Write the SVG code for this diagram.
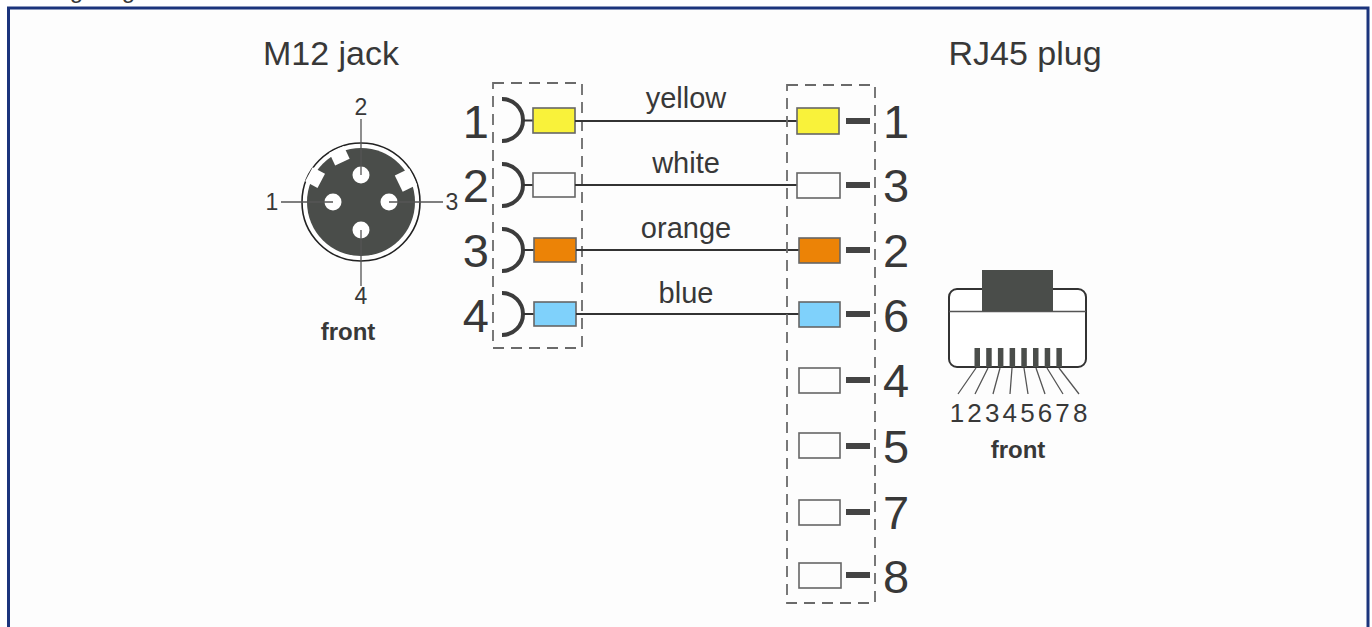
<svg xmlns="http://www.w3.org/2000/svg" width="1372" height="627" viewBox="0 0 1372 627">
<style>
.t{font-family:"Liberation Sans",Arial,sans-serif;fill:#383838}
.big{font-size:47px}
.ttl{font-size:34px}
.wl{font-size:29px;text-anchor:middle}
.sm{font-size:23px;text-anchor:middle}
.fr{font-size:24px;font-weight:bold;text-anchor:middle}
.pin{stroke:#666;stroke-width:1.6}
.stub{fill:#444}
.box{fill:none;stroke:#6a6a6a;stroke-width:1.8;stroke-dasharray:11 7}
.wire{stroke:#333;stroke-width:2;fill:none}
.lead{stroke:#555;stroke-width:1.3;fill:none}
.sock{stroke:#3c3c3c;stroke-width:4;fill:none}
</style>
<rect x="0" y="0" width="1372" height="627" fill="#ffffff"/>
<text class="t" x="15" y="-2" font-size="24">Wiring diagram</text>
<rect x="8.5" y="8" width="1359.5" height="640" fill="#fdfdfd" stroke="#1b347c" stroke-width="3"/>

<g id="m12">
<text class="t ttl" x="331" y="65" text-anchor="middle">M12 jack</text>
<circle cx="361" cy="202" r="59" fill="#fff" stroke="#222" stroke-width="1.6"/>
<circle cx="361" cy="202" r="54" fill="#4a4d4a"/>
<rect x="405" y="194" width="14" height="16" fill="#fff" transform="rotate(-115 361 202)"/>
<rect x="406" y="194" width="14" height="16" fill="#fff" transform="rotate(-152 361 202)"/>
<rect x="403" y="193" width="16" height="18" fill="#fff" transform="rotate(-26 361 202)"/>
<circle cx="361" cy="175" r="8.5" fill="#fff"/>
<circle cx="333" cy="202" r="8.5" fill="#fff"/>
<circle cx="389" cy="202" r="8.5" fill="#fff"/>
<circle cx="361" cy="230" r="8.5" fill="#fff"/>
<path class="lead" d="M361 119V175M281 202H333M389 202H443M361 230V286"/>
<text class="t sm" x="361" y="115">2</text>
<text class="t sm" x="272" y="210">1</text>
<text class="t sm" x="452" y="210">3</text>
<text class="t sm" x="361" y="304">4</text>
<text class="t fr" x="348" y="340">front</text>
</g>

<g id="m12-pins">
<rect class="box" x="493" y="83" width="89" height="265"/>
<g id="jack1"><text class="t big" x="489" y="138" text-anchor="end">1</text><path class="sock" d="M502 99A21 21 0 0 1 502 141"/><path class="wire" d="M523 120.5H533"/><rect class="pin" x="533" y="108" width="42" height="25" fill="#f9f23a"/></g>
<g id="jack2"><text class="t big" x="489" y="202" text-anchor="end">2</text><path class="sock" d="M502 164A21 21 0 0 1 502 206"/><path class="wire" d="M523 185H533"/><rect class="pin" x="533" y="173" width="42" height="24" fill="#fdfdfd"/></g>
<g id="jack3"><text class="t big" x="489" y="267" text-anchor="end">3</text><path class="sock" d="M502 229A21 21 0 0 1 502 271"/><path class="wire" d="M523 250H534"/><rect class="pin" x="534" y="238" width="42" height="24" fill="#ec8306"/></g>
<g id="jack4"><text class="t big" x="489" y="332" text-anchor="end">4</text><path class="sock" d="M502 293A21 21 0 0 1 502 335"/><path class="wire" d="M523 314H534"/><rect class="pin" x="534" y="302" width="42" height="24" fill="#7fd1fb"/></g>
</g>

<g id="connectors">
<path class="wire" d="M575 121H797"/>
<path class="wire" d="M575 185H797"/>
<path class="wire" d="M576 250H799"/>
<path class="wire" d="M576 314H799"/>
<text class="t wl" x="686" y="108">yellow</text>
<text class="t wl" x="686" y="173">white</text>
<text class="t wl" x="686" y="238">orange</text>
<text class="t wl" x="686" y="303">blue</text>
</g>

<g id="rj45-pins">
<rect class="box" x="787" y="85" width="88" height="518"/>
<g id="plug1"><rect class="pin" x="797" y="108" width="42" height="26" fill="#f9f23a"/><rect class="stub" x="846" y="118" width="24" height="6"/><text class="t big" x="883" y="138">1</text></g>
<g id="plug3"><rect class="pin" x="797" y="173" width="43" height="25" fill="#fdfdfd"/><rect class="stub" x="846" y="182" width="24" height="6"/><text class="t big" x="883" y="202">3</text></g>
<g id="plug2"><rect class="pin" x="799" y="238" width="41" height="25" fill="#ec8306"/><rect class="stub" x="846" y="247" width="24" height="6"/><text class="t big" x="883" y="267">2</text></g>
<g id="plug6"><rect class="pin" x="799" y="302" width="41" height="25" fill="#7fd1fb"/><rect class="stub" x="846" y="311" width="24" height="6"/><text class="t big" x="883" y="332">6</text></g>
<g id="plug4"><rect class="pin" x="799" y="368" width="41" height="25" fill="#fdfdfd"/><rect class="stub" x="846" y="377" width="24" height="6"/><text class="t big" x="883" y="397">4</text></g>
<g id="plug5"><rect class="pin" x="799" y="433" width="41" height="25" fill="#fdfdfd"/><rect class="stub" x="846" y="443" width="24" height="6"/><text class="t big" x="883" y="463">5</text></g>
<g id="plug7"><rect class="pin" x="799" y="500" width="41" height="25" fill="#fdfdfd"/><rect class="stub" x="846" y="509" width="24" height="6"/><text class="t big" x="883" y="529">7</text></g>
<g id="plug8"><rect class="pin" x="799" y="563" width="42" height="25" fill="#fdfdfd"/><rect class="stub" x="846" y="572" width="24" height="6"/><text class="t big" x="883" y="593">8</text></g>
</g>

<g id="rj45">
<text class="t ttl" x="1025" y="65" text-anchor="middle">RJ45 plug</text>
<rect x="949" y="289" width="137" height="78" rx="8" fill="#fff" stroke="#333" stroke-width="2"/>
<path d="M949 311.5H1086" stroke="#555" stroke-width="1.5"/>
<rect x="982" y="270" width="71" height="41" fill="#4a4d4a"/>
<g fill="#4a4d4a">
<rect x="974.5" y="348" width="5.5" height="19"/>
<rect x="986.2" y="348" width="5.5" height="19"/>
<rect x="997.9" y="348" width="5.5" height="19"/>
<rect x="1009.6" y="348" width="5.5" height="19"/>
<rect x="1021.3" y="348" width="5.5" height="19"/>
<rect x="1033" y="348" width="5.5" height="19"/>
<rect x="1044.7" y="348" width="5.5" height="19"/>
<rect x="1056.4" y="348" width="5.5" height="19"/>
</g>
<path class="lead" d="M976 368L958 394M988 368L975 394M1000 368L993 394M1012 368L1010 394M1024 368L1028 394M1036 368L1045 394M1047 368L1063 394M1059 368L1079 394"/>
<g class="t" font-size="26" text-anchor="middle">
<text x="957" y="422">1</text>
<text x="974.6" y="422">2</text>
<text x="992.2" y="422">3</text>
<text x="1009.8" y="422">4</text>
<text x="1027.4" y="422">5</text>
<text x="1045" y="422">6</text>
<text x="1062.6" y="422">7</text>
<text x="1080.2" y="422">8</text>
</g>
<text class="t fr" x="1018" y="458">front</text>
</g>
</svg>
